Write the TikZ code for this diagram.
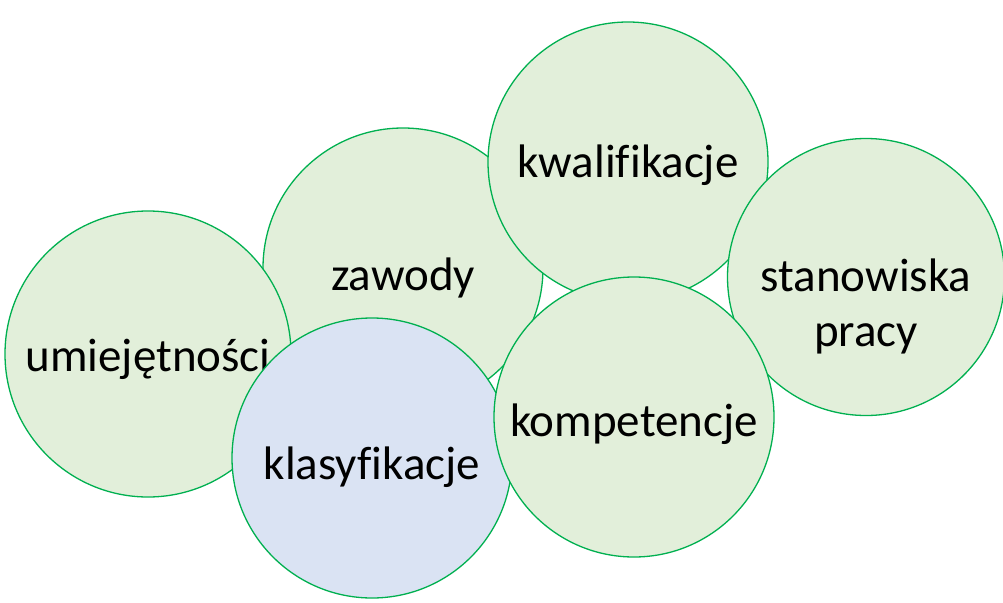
\documentclass[tikz,border=0pt]{standalone}
\usepackage{fontspec}
\setmainfont{Carlito}[Ligatures=NoCommon]
\definecolor{ramka}{HTML}{00B050}
\definecolor{zielony}{HTML}{E2EFDA}
\definecolor{niebieski}{HTML}{DAE3F3}
\tikzset{kolo/.style={circle,draw=ramka,line width=1.3pt,fill=zielony,
  inner sep=0pt,minimum size=280pt},
  napis/.style={inner sep=0pt,align=center,
  font=\fontsize{47}{55}\selectfont}}

\begin{document}
\begin{tikzpicture}[x=1pt,y=-1pt]
\useasboundingbox (0,0) rectangle (1003,602);

% od spodu do gory
\node[kolo] (Z) at (403,268) {};
\node[napis] (Zt) at ([yshift=-10pt]Z.center) {zawody};

\node[kolo,minimum size=286pt] (U) at (148,354) {};
\node[napis] (Ut) at ([yshift=-5pt]U.center) {umiejętności};

\node[kolo] (KW) at (628,162) {};
\node[napis] (KWt) at ([yshift=-3pt]KW.center) {kwalifikacje};

\node[kolo,minimum size=277pt] (ST) at (866,277) {};
\node[napis] (STt) at ([yshift=-29pt]ST.center) {stanowiska\\pracy};

\node[kolo,fill=niebieski] (KL) at (372,458) {};
\node[napis] (KLt) at ([yshift=-9pt]KL.center) {klasyfikacje};

\node[kolo] (KO) at (634,417) {};
\node[napis] (KOt) at ([yshift=-7pt]KO.center) {kompetencje};

\end{tikzpicture}
\end{document}
